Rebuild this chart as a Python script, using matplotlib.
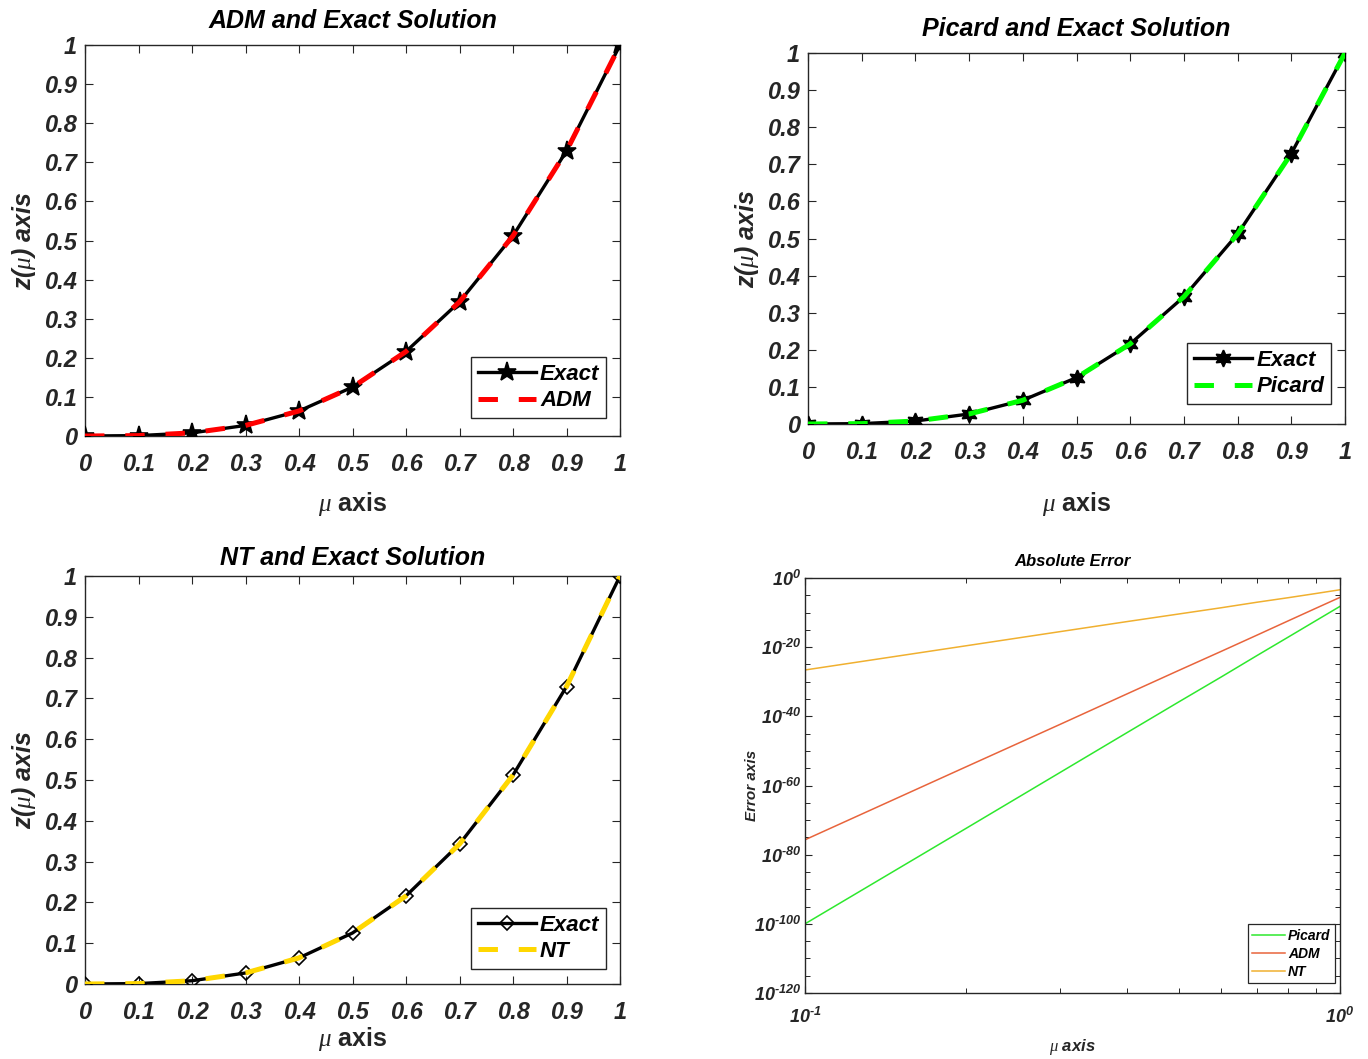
import matplotlib
matplotlib.use("Agg")
import matplotlib.pyplot as plt
from matplotlib import font_manager
from matplotlib.ticker import FixedLocator, FixedFormatter, NullFormatter

# ---------------- data ----------------
mu = [0.0, 0.1, 0.2, 0.3, 0.4, 0.5, 0.6, 0.7, 0.8, 0.9, 1.0]
exact = [0.0, 0.001, 0.008, 0.027, 0.064, 0.125, 0.216, 0.343, 0.512, 0.729, 1.0]
adm = [0.0, 0.001, 0.008, 0.027, 0.064, 0.125, 0.216, 0.343, 0.512, 0.729, 1.0]
picard = [0.0, 0.001, 0.008, 0.027, 0.064, 0.125, 0.216, 0.343, 0.512, 0.729, 1.0]
nt = [0.0, 0.001, 0.008, 0.027, 0.064, 0.125, 0.216, 0.343, 0.512, 0.729, 1.0]

mu_err = [0.1, 0.2, 0.3, 0.4, 0.5, 0.6, 0.7, 0.8, 0.9, 1.0]
log_err_picard = [-100.0, -72.4, -56.2, -44.7, -35.8, -28.6, -22.4, -17.1, -12.4, -8.2]
log_err_adm = [-75.7, -54.6, -42.3, -33.5, -26.7, -21.2, -16.5, -12.4, -8.8, -5.6]
log_err_nt = [-26.6, -19.6, -15.5, -12.6, -10.4, -8.6, -7.0, -5.7, -4.5, -3.4]

lin_ticks = [0, 0.1, 0.2, 0.3, 0.4, 0.5, 0.6, 0.7, 0.8, 0.9, 1]
lin_labels = ["0", "0.1", "0.2", "0.3", "0.4", "0.5", "0.6", "0.7", "0.8", "0.9", "1"]
err_yexp = [0, -20, -40, -60, -80, -100, -120]
err_xexp = [-1, 0]

# ---------------- fonts ----------------
names = {f.name for f in font_manager.fontManager.ttflist}
SANS = "Liberation Sans"
NARROW = "Liberation Sans Narrow" if "Liberation Sans Narrow" in names else SANS
plt.rcParams["mathtext.fontset"] = "custom"
plt.rcParams["mathtext.it"] = "Liberation Serif:italic"
plt.rcParams["mathtext.rm"] = NARROW + ":italic:bold"
plt.rcParams["mathtext.bf"] = NARROW + ":italic:bold"
plt.rcParams["lines.scale_dashes"] = False

GRAY = "#262626"
W, H = 1368, 1059
fig = plt.figure(figsize=(W / 100, H / 100), dpi=100)


def rect(l, t, r, b):
    return [l / W, 1 - b / H, (r - l) / W, (b - t) / H]


def style_axes(ax, fam, size):
    for s in ax.spines.values():
        s.set_color(GRAY)
        s.set_linewidth(1.0)
    ax.tick_params(direction="in", top=True, right=True, length=6, width=0.8,
                   color=GRAY, labelcolor=GRAY, labelsize=size)
    for lab in ax.get_xticklabels() + ax.get_yticklabels():
        lab.set_family(fam)
        lab.set_weight("bold")
        lab.set_style("italic")


def exp_label(e):
    s = str(e).replace("-", "\u2010")
    return r"$\mathrm{10^{%s}}$" % s


def sol_panel(r, approx, color, label, marker, msize, mfc, fam, title, legend_anchor,
              title_pad, xlabel_pad):
    ax = fig.add_axes(rect(*r))
    ax.plot(mu, exact, color="black", lw=2.4, marker=marker, ms=msize,
            mfc=mfc, mec="black", mew=1.2, label="Exact", zorder=3)
    ln, = ax.plot(mu, approx, color=color, lw=3.6, label=label, zorder=4)
    ln.set_dashes((14, 15))
    ax.set_xlim(0, 1)
    ax.set_ylim(0, 1)
    ax.set_xticks(lin_ticks)
    ax.set_xticklabels(lin_labels)
    ax.set_yticks(lin_ticks)
    ax.set_yticklabels(lin_labels)
    style_axes(ax, fam, 17)
    ax.tick_params(axis="x", pad=12)
    ax.tick_params(axis="y", pad=6)
    ax.set_title(title, family=fam, weight="bold", style="italic", size=18, pad=title_pad)
    ax.set_xlabel(r"$\mu$ axis", family=fam, weight="bold", size=18, color=GRAY,
                  labelpad=xlabel_pad)
    ax.set_ylabel(r"z($\mu$) axis", family=fam, weight="bold", style="italic", size=18,
                  color=GRAY, labelpad=4)
    leg = ax.legend(loc="lower right", bbox_to_anchor=legend_anchor, borderaxespad=0,
                    fancybox=False, handlelength=2.6, handletextpad=0.2,
                    borderpad=0.3, labelspacing=0.25,
                    prop=dict(family=fam, weight="bold", style="italic", size=16))
    leg.get_frame().set_edgecolor(GRAY)
    leg.get_frame().set_linewidth(1.0)
    leg.get_frame().set_alpha(1)
    return ax


sol_panel((85, 45, 620, 436), adm, "#FF0000", "ADM", "*", 14, "black", SANS,
          "ADM and Exact Solution", (0.974, 0.046), 12, 10)
sol_panel((808, 53, 1345, 424), picard, "#00FF00", "Picard", (6, 1, 0), 12, "black", NARROW,
          "Picard and Exact Solution", (0.974, 0.054), 12, 19)
sol_panel((85, 576, 620, 984), nt, "#FFD700", "NT", "D", 7, "none", SANS,
          "NT and Exact Solution", (0.974, 0.037), 8, 1)

# ---------------- error panel ----------------
ax = fig.add_axes(rect(805, 578, 1340, 993))
ax.plot(mu_err, [10.0 ** v for v in log_err_picard], color="#2EE82E", lw=1.1, label="Picard")
ax.plot(mu_err, [10.0 ** v for v in log_err_adm], color="#E8643C", lw=1.1, label="ADM")
ax.plot(mu_err, [10.0 ** v for v in log_err_nt], color="#F0B030", lw=1.1, label="NT")
ax.set_xscale("log")
ax.set_yscale("log")
ax.set_xlim(0.1, 1)
ax.set_ylim(1e-120, 1)
ax.yaxis.set_major_locator(FixedLocator([10.0 ** e for e in err_yexp]))
ax.yaxis.set_major_formatter(FixedFormatter([exp_label(e) for e in err_yexp]))
ax.yaxis.set_minor_locator(FixedLocator([10.0 ** (-5 * k) for k in range(25)]))
ax.yaxis.set_minor_formatter(NullFormatter())
ax.xaxis.set_major_locator(FixedLocator([10.0 ** e for e in err_xexp]))
ax.xaxis.set_major_formatter(FixedFormatter([exp_label(e) for e in err_xexp]))
ax.xaxis.set_minor_locator(FixedLocator([0.2, 0.3, 0.4, 0.5, 0.6, 0.7, 0.8, 0.9]))
ax.xaxis.set_minor_formatter(NullFormatter())
style_axes(ax, NARROW, 13)
ax.tick_params(which="minor", direction="in", top=True, right=True, length=3.5,
               width=0.7, color=GRAY)
ax.tick_params(which="major", length=5)
ax.tick_params(axis="x", pad=10)
ax.tick_params(axis="y", pad=3)
ax.set_title("Absolute Error", family=NARROW, weight="bold", style="italic", size=12, pad=9)
ax.set_xlabel(r"$\mu$ axis", family=NARROW, weight="bold", style="italic", size=12,
              color=GRAY, labelpad=7)
ax.set_ylabel("Error axis", family=SANS, weight="bold", style="italic", size=11,
              color=GRAY, labelpad=-4)
leg = ax.legend(loc="lower right", bbox_to_anchor=(0.99, 0.024), borderaxespad=0,
                fancybox=False, handlelength=2.4, handletextpad=0.2,
                borderpad=0.3, labelspacing=0.3,
                prop=dict(family=NARROW, weight="bold", style="italic", size=10))
leg.get_frame().set_edgecolor(GRAY)
leg.get_frame().set_linewidth(0.9)
leg.get_frame().set_alpha(1)

fig.savefig("out.png", dpi=100)
